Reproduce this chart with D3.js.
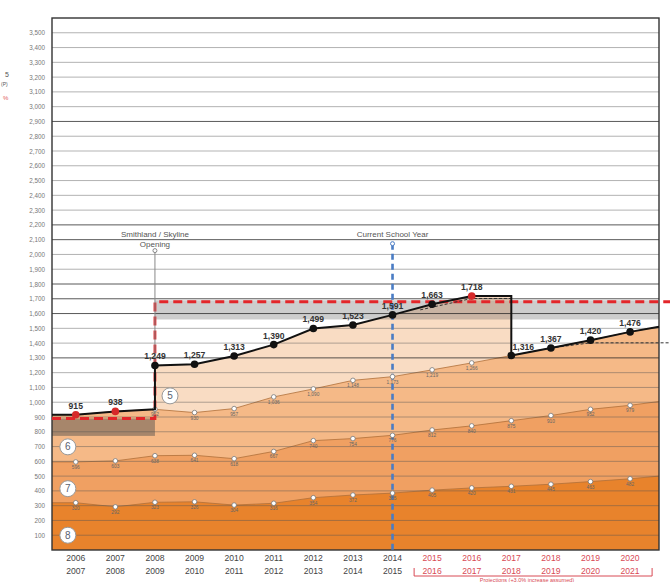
<!DOCTYPE html>
<html lang="en">
<head>
<meta charset="utf-8">
<style>
  body { margin: 0; background: #fff; }
  svg { display: block; font-family: "Liberation Sans", Arial, sans-serif; }
  .grid { stroke: #555; stroke-opacity: .45; stroke-width: 1; }
  .grid.dark { stroke: #222; stroke-opacity: .75; }
  .ylab { font-size: 6.3px; fill: #777; }
  .xlab { font-size: 8.6px; fill: #444; }
  .xlab.proj { fill: #d84a55; }
  .tot { font-size: 8.6px; font-weight: bold; fill: #333; }
  .small { font-size: 4.8px; fill: #666; }
  .note { font-size: 8px; fill: #555; }
  .badge circle { fill: #fff; stroke: #999; stroke-width: 1; }
  .badge text { font-size: 10px; fill: #5a6270; }
</style>
</head>
<body>
<svg width="670" height="582"></svg>
<script src="https://d3js.org/d3.v7.min.js"></script>
<script>
// school years (first line / second line of each label)
var years     = ["2006","2007","2008","2009","2010","2011","2012","2013","2014","2015","2016","2017","2018","2019","2020"];
var yearsNext = ["2007","2008","2009","2010","2011","2012","2013","2014","2015","2016","2017","2018","2019","2020","2021"];
var firstProjection = 9; // 2015 onwards

// total enrollment (black line)
var total = [915, 938, 1249, 1257, 1313, 1390, 1499, 1523, 1591, 1663, 1718, 1316, 1367, 1420, 1476];
var totalEdge = 1510;
var redPoints = [0, 1, 10];

// cumulative tops of each grade layer
var top6 = [915, 938, 952, 930, 957, 1036, 1090, 1148, 1173, 1219, 1266, 1316, 1367, 1420, 1476];
var top7 = [596, 603, 638, 641, 618, 667, 740, 754, 776, 812, 840, 875, 910, 952, 979];
var top8 = [320, 292, 323, 326, 304, 316, 354, 372, 385, 405, 420, 431, 445, 463, 482];
var top7Edge = 1005, top8Edge = 500;
var top6Marked = [2, 3, 4, 5, 6, 7, 8, 9, 10];

// capacity bands
var oldCapacity = 890, oldBandLow = 772;
var newCapacity = 1680, newBandTop = 1690, newBandLow = 1560;

// alternative projection (dashed)
var altA = [[8.7, 1625], [10, 1702], [11, 1702]];
var altB = [[12, 1367], [13, 1402]];

var darkGrid = [2900, 2200, 2100, 1800, 1700, 1600, 1300];
var badges = [["5", 2.38, 1043], ["6", -0.2, 698], ["7", -0.2, 415], ["8", -0.2, 100]];

var svg = d3.select("svg"),
    width = +svg.attr("width"),
    height = +svg.attr("height");

var left = -0.6, right = 14.73;
var x = d3.scaleLinear().domain([left, right]).range([52, 659]);
var y = d3.scaleLinear().domain([0, 3600]).range([550, 18]);

svg.append("rect").attr("width", width).attr("height", height).attr("fill", "#fff");

function pts(vals, l, r) {
    var p = [[left, l]];
    vals.forEach(function (v, i) { p.push([i, v]); });
    p.push([right, r]);
    return p;
}

var totalPts = [[left, total[0]]];
total.forEach(function (v, i) {
    if (i === 2) totalPts.push([2, top6[2]]);
    if (i === 11) totalPts.push([11, total[10]]);
    totalPts.push([i, v]);
});
totalPts.push([right, totalEdge]);

var area = d3.area().x(function (d) { return x(d[0]); }).y0(y(0)).y1(function (d) { return y(d[1]); });
var line = d3.line().x(function (d) { return x(d[0]); }).y(function (d) { return y(d[1]); });

var layers = [
    [totalPts, "#f9dcc3"],
    [pts(top6, top6[0], totalEdge), "#f5b987"],
    [pts(top7, top7[0], top7Edge), "#f0a062"],
    [pts(top8, top8[0], top8Edge), "#e8832c"]
];
layers.forEach(function (l) {
    svg.append("path").attr("d", area(l[0])).attr("fill", l[1]);
});

// layer boundary lines
[pts(top6, top6[0], totalEdge), pts(top7, top7[0], top7Edge), pts(top8, top8[0], top8Edge)].forEach(function (p) {
    svg.append("path").attr("d", line(p)).attr("fill", "none").attr("stroke", "#b0703a").attr("stroke-width", .8);
});

// capacity bands
svg.append("rect")
    .attr("x", x(2)).attr("y", y(newBandTop))
    .attr("width", x(right) - x(2)).attr("height", y(newBandLow) - y(newBandTop))
    .attr("fill", "#5a5a5a").attr("fill-opacity", .3);
svg.append("rect")
    .attr("x", x(left)).attr("y", y(oldCapacity))
    .attr("width", x(2) - x(left)).attr("height", y(oldBandLow) - y(oldCapacity))
    .attr("fill", "#4a4a4a").attr("fill-opacity", .45);

// grid
svg.selectAll(".grid").data(d3.range(100, 3600, 100)).enter().append("line")
    .attr("class", function (d) { return darkGrid.indexOf(d) >= 0 ? "grid dark" : "grid"; })
    .attr("x1", x(left)).attr("x2", x(right))
    .attr("y1", function (d) { return y(d); }).attr("y2", function (d) { return y(d); });

// frame
svg.append("rect").attr("x", x(left)).attr("y", y(3600))
    .attr("width", x(right) - x(left)).attr("height", y(0) - y(3600))
    .attr("fill", "none").attr("stroke", "#333").attr("stroke-width", 1.4);

// y axis labels
var yAxis = svg.append("g").attr("transform", "translate(45,0)")
    .call(d3.axisLeft(y).tickValues(d3.range(100, 3600, 100)).tickFormat(d3.format(",")).tickSize(0).tickPadding(0));
yAxis.select(".domain").remove();
yAxis.selectAll("text").attr("class", "ylab").attr("fill", null).attr("font-family", null).attr("font-size", null);

// x axis labels
svg.selectAll(".xl1").data(years).enter().append("text")
    .attr("class", function (d, i) { return i >= firstProjection ? "xlab proj" : "xlab"; })
    .attr("x", function (d, i) { return x(i); }).attr("y", 561)
    .attr("text-anchor", "middle").text(function (d) { return d; });
svg.selectAll(".xl2").data(yearsNext).enter().append("text")
    .attr("class", function (d, i) { return i >= firstProjection ? "xlab proj" : "xlab"; })
    .attr("x", function (d, i) { return x(i); }).attr("y", 574)
    .attr("text-anchor", "middle").text(function (d) { return d; });

// projections bracket
svg.append("path")
    .attr("d", "M" + (x(firstProjection) - 18) + ",568V576H" + (x(14) + 22) + "V568")
    .attr("fill", "none").attr("stroke", "#d84a55").attr("stroke-width", 1);
svg.append("text").attr("x", 527).attr("y", 581.5).attr("text-anchor", "middle")
    .attr("font-size", "5.5px").attr("fill", "#d84a55").text("Projections (+3.0% increase assumed)");

// red capacity dashed line
svg.append("path")
    .attr("d", line([[left, oldCapacity], [2, oldCapacity], [2, newCapacity], [x.invert(width), newCapacity]]))
    .attr("fill", "none").attr("stroke", "#e3262a").attr("stroke-width", 2.8).attr("stroke-dasharray", "9,5");

// opening marker
svg.append("line").attr("x1", x(2)).attr("x2", x(2)).attr("y1", y(2026)).attr("y2", y(total[2]))
    .attr("stroke", "#888").attr("stroke-width", 1);
svg.append("circle").attr("cx", x(2)).attr("cy", y(2026)).attr("r", 2)
    .attr("fill", "#fff").attr("stroke", "#888");
svg.append("text").attr("class", "note").attr("x", x(2)).attr("y", y(2026) - 14).attr("text-anchor", "middle").text("Smithland / Skyline");
svg.append("text").attr("class", "note").attr("x", x(2)).attr("y", y(2026) - 4).attr("text-anchor", "middle").text("Opening");

// current school year
svg.append("line").attr("x1", x(8)).attr("x2", x(8)).attr("y1", y(2073)).attr("y2", y(0))
    .attr("stroke", "#4a7cc4").attr("stroke-width", 2.6).attr("stroke-dasharray", "6,4");
svg.append("circle").attr("cx", x(8)).attr("cy", y(2073)).attr("r", 2)
    .attr("fill", "#fff").attr("stroke", "#4a7cc4");
svg.append("text").attr("class", "note").attr("x", x(8)).attr("y", y(2073) - 7).attr("text-anchor", "middle").text("Current School Year");

// small boundary markers
function marks(vals, idx) {
    idx.forEach(function (i) {
        svg.append("circle").attr("cx", x(i)).attr("cy", y(vals[i])).attr("r", 2.3)
            .attr("fill", "#fff").attr("stroke", "#777").attr("stroke-width", .8);
        svg.append("text").attr("class", "small").attr("x", x(i)).attr("y", y(vals[i]) + 7)
            .attr("text-anchor", "middle").text(d3.format(",")(vals[i]));
    });
}
marks(top8, d3.range(15));
marks(top7, d3.range(15));
marks(top6, top6Marked);

// alternative projection
[altA, altB.concat([[x.invert(width), altB[1][1]]])].forEach(function (p) {
    svg.append("path").attr("d", line(p)).attr("fill", "none")
        .attr("stroke", "#333").attr("stroke-width", 1).attr("stroke-dasharray", "3,2");
});

// total line
svg.append("path").attr("d", line(totalPts)).attr("fill", "none")
    .attr("stroke", "#111").attr("stroke-width", 2);
svg.selectAll(".dot").data(total).enter().append("circle")
    .attr("cx", function (d, i) { return x(i); }).attr("cy", function (d) { return y(d); })
    .attr("r", 3.8)
    .attr("fill", function (d, i) { return redPoints.indexOf(i) >= 0 ? "#d62a2a" : "#111"; });
svg.selectAll(".totlab").data(total).enter().append("text")
    .attr("class", "tot")
    .attr("x", function (d, i) { return x(i) + (i === 11 ? 12 : 0); })
    .attr("y", function (d) { return y(d) - 6; })
    .attr("text-anchor", "middle").text(function (d) { return d3.format(",")(d); });

// grade badges
badges.forEach(function (b) {
    var g = svg.append("g").attr("class", "badge").attr("transform", "translate(" + x(b[1]) + "," + y(b[2]) + ")");
    g.append("circle").attr("r", 8);
    g.append("text").attr("text-anchor", "middle").attr("dy", "0.36em").text(b[0]);
});

// legend fragments on the left edge
svg.append("text").attr("x", 5).attr("y", 77).attr("font-size", "7px").attr("fill", "#555").text("5");
svg.append("text").attr("x", 1).attr("y", 86).attr("font-size", "5px").attr("fill", "#555").text("(P)");
svg.append("text").attr("x", 3).attr("y", 100).attr("font-size", "6px").attr("fill", "#e05a5a").text("%");
</script>
</body>
</html>
